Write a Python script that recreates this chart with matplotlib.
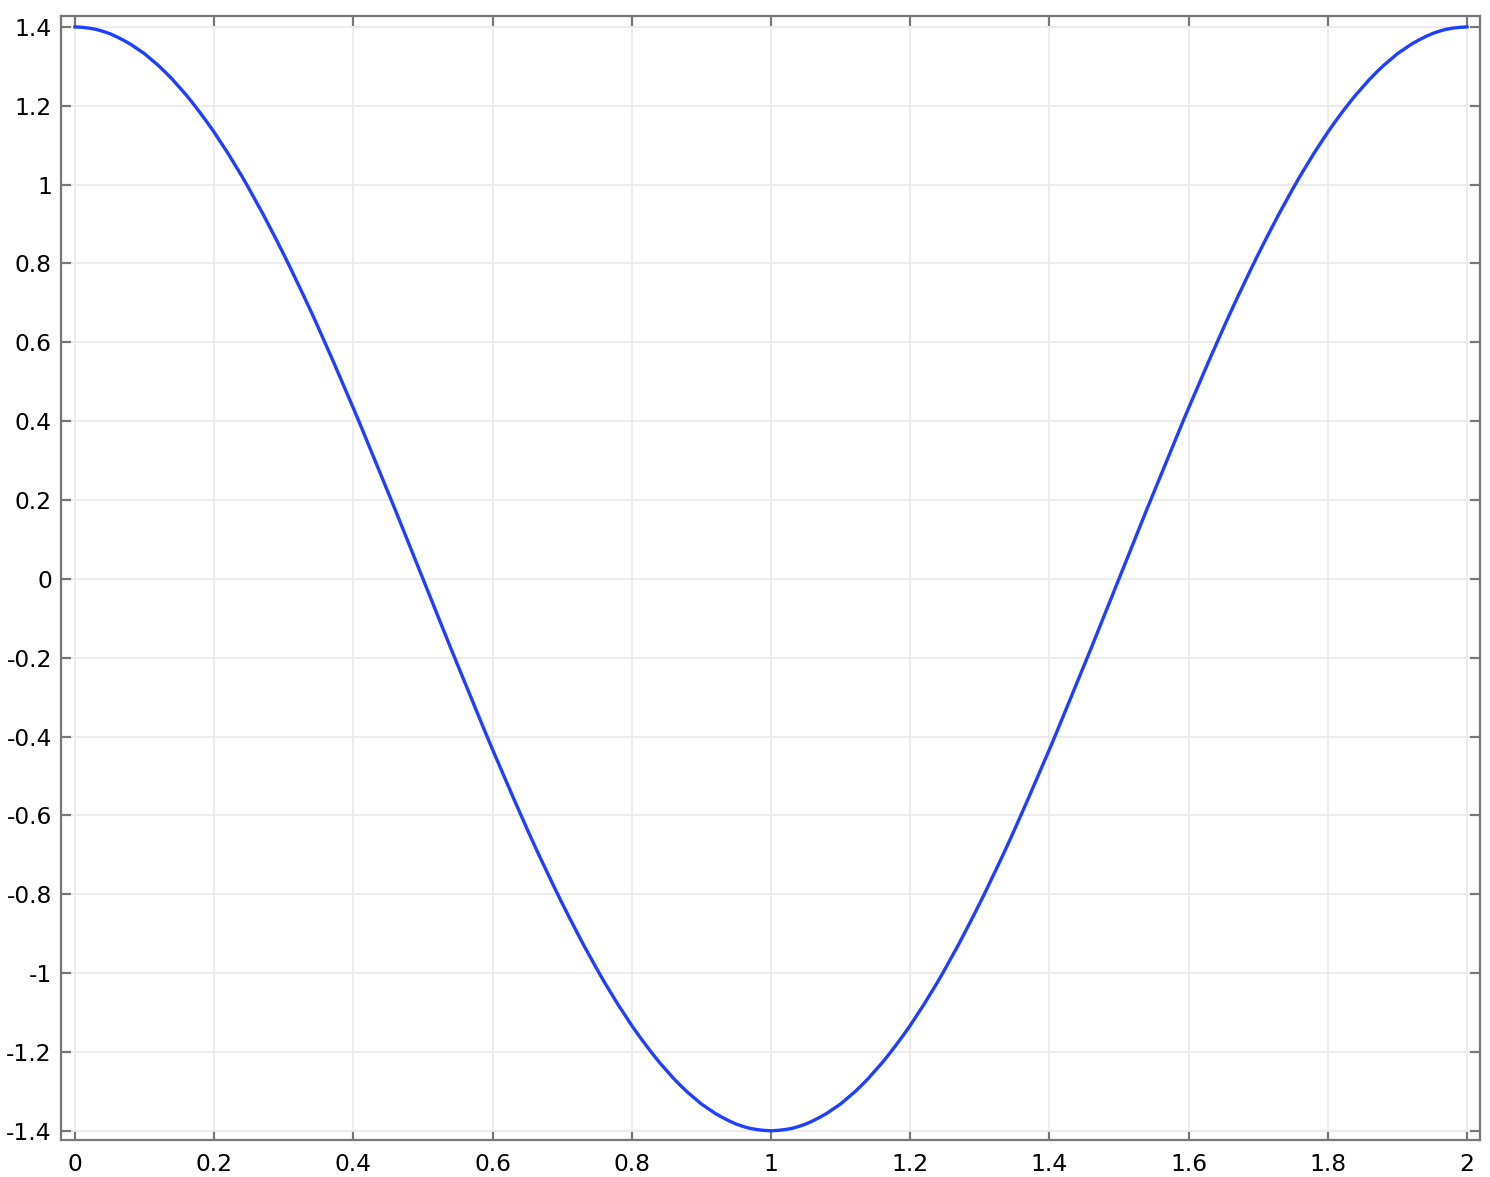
import numpy as np
import matplotlib
matplotlib.use('Agg')
import matplotlib.pyplot as plt

plt.rcParams['axes.unicode_minus'] = False

# x grid (step 0.01) and curve values
x = np.linspace(0, 2, 201)
y = [1.400, 1.399, 1.397, 1.394, 1.389, 1.383, 1.375, 1.366, 1.356, 1.344,
     1.332, 1.317, 1.302, 1.285, 1.267, 1.247, 1.227, 1.205, 1.182, 1.158,
     1.133, 1.106, 1.079, 1.050, 1.021, 0.990, 0.958, 0.926, 0.892, 0.858,
     0.823, 0.787, 0.750, 0.713, 0.675, 0.636, 0.596, 0.556, 0.515, 0.474,
     0.433, 0.391, 0.348, 0.305, 0.262, 0.219, 0.176, 0.132, 0.088, 0.044,
     0.000, -0.044, -0.088, -0.132, -0.176, -0.219, -0.262, -0.305, -0.348, -0.391,
     -0.433, -0.474, -0.515, -0.556, -0.596, -0.636, -0.675, -0.713, -0.750, -0.787,
     -0.823, -0.858, -0.892, -0.926, -0.958, -0.990, -1.021, -1.050, -1.079, -1.106,
     -1.133, -1.158, -1.182, -1.205, -1.227, -1.247, -1.267, -1.285, -1.302, -1.317,
     -1.332, -1.344, -1.356, -1.366, -1.375, -1.383, -1.389, -1.394, -1.397, -1.399,
     -1.400, -1.399, -1.397, -1.394, -1.389, -1.383, -1.375, -1.366, -1.356, -1.344,
     -1.332, -1.317, -1.302, -1.285, -1.267, -1.247, -1.227, -1.205, -1.182, -1.158,
     -1.133, -1.106, -1.079, -1.050, -1.021, -0.990, -0.958, -0.926, -0.892, -0.858,
     -0.823, -0.787, -0.750, -0.713, -0.675, -0.636, -0.596, -0.556, -0.515, -0.474,
     -0.433, -0.391, -0.348, -0.305, -0.262, -0.219, -0.176, -0.132, -0.088, -0.044,
     0.000, 0.044, 0.088, 0.132, 0.176, 0.219, 0.262, 0.305, 0.348, 0.391,
     0.433, 0.474, 0.515, 0.556, 0.596, 0.636, 0.675, 0.713, 0.750, 0.787,
     0.823, 0.858, 0.892, 0.926, 0.958, 0.990, 1.021, 1.050, 1.079, 1.106,
     1.133, 1.158, 1.182, 1.205, 1.227, 1.247, 1.267, 1.285, 1.302, 1.317,
     1.332, 1.344, 1.356, 1.366, 1.375, 1.383, 1.389, 1.394, 1.397, 1.399,
     1.400]

xticks = [0, 0.2, 0.4, 0.6, 0.8, 1, 1.2, 1.4, 1.6, 1.8, 2]
xlabels = ['0', '0.2', '0.4', '0.6', '0.8', '1', '1.2', '1.4', '1.6', '1.8', '2']
yticks = [-1.4, -1.2, -1, -0.8, -0.6, -0.4, -0.2, 0, 0.2, 0.4, 0.6, 0.8, 1, 1.2, 1.4]
ylabels = ['-1.4', '-1.2', '-1', '-0.8', '-0.6', '-0.4', '-0.2', '0',
           '0.2', '0.4', '0.6', '0.8', '1', '1.2', '1.4']

frame_color = '#777777'

fig = plt.figure(figsize=(14.9, 11.77), dpi=100)
ax = fig.add_axes([0.0409, 0.0314, 0.9527, 0.9546])

ax.plot(x, y, color='#1f3fff', lw=2.4, zorder=3)

ax.set_xlim(-0.0201, 2.0194)
ax.set_ylim(-1.4235, 1.4265)
ax.set_xticks(xticks)
ax.set_xticklabels(xlabels)
ax.set_yticks(yticks)
ax.set_yticklabels(ylabels)

ax.grid(True, color='#ebebeb', lw=1.3)
ax.set_axisbelow(True)

for s in ax.spines.values():
    s.set_color(frame_color)
    s.set_linewidth(1.6)

ax.tick_params(axis='both', which='both', direction='in', length=7.5, width=1.6,
               color=frame_color, labelsize=16.8, labelcolor='black',
               top=True, right=True)
ax.tick_params(axis='x', pad=9.5)
ax.tick_params(axis='y', pad=6.5)

fig.savefig('out.png', dpi=100)
